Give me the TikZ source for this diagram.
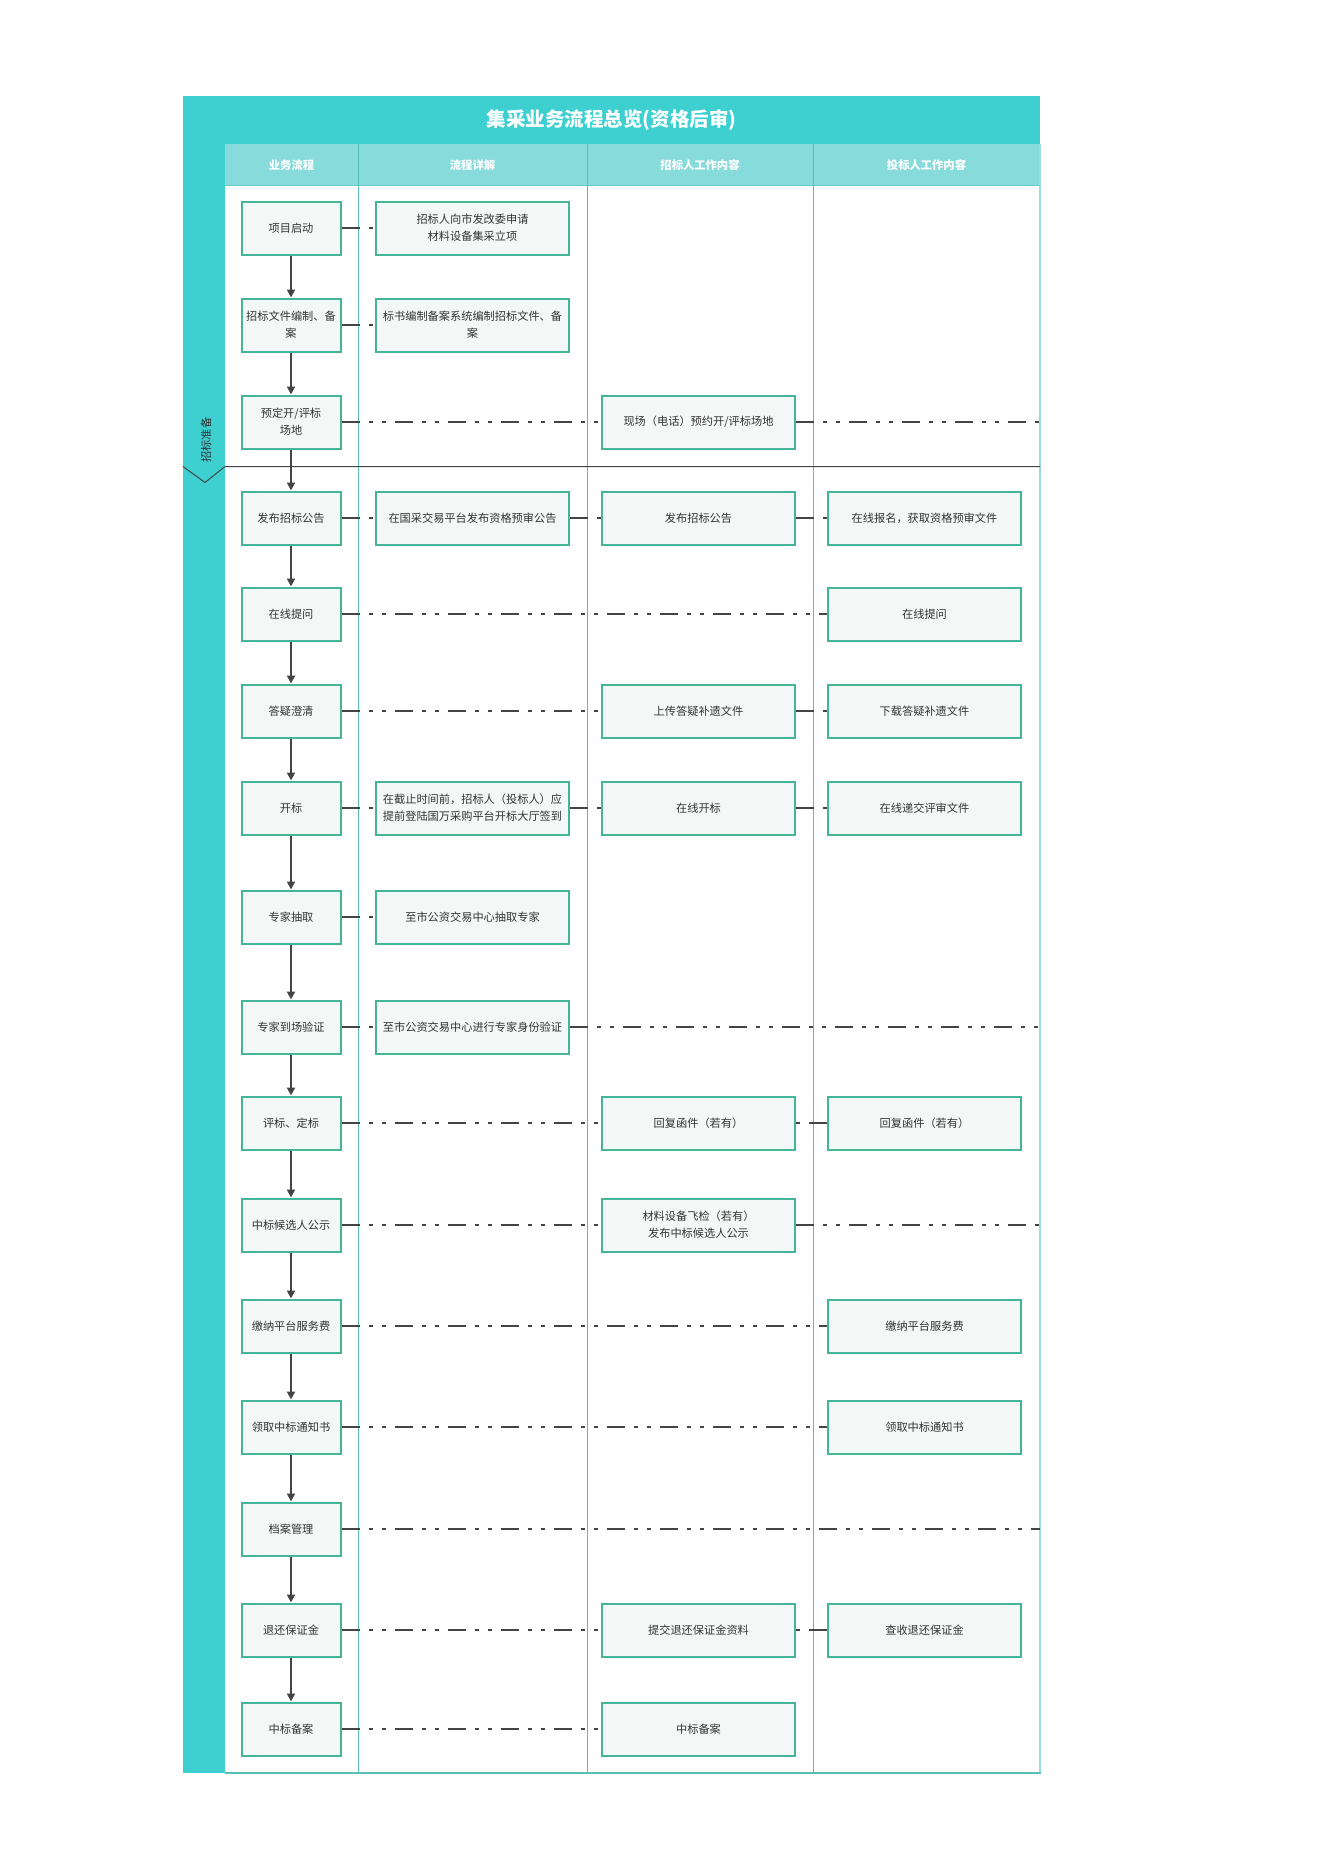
\documentclass[tikz,border=0pt]{standalone}
\usepackage{fontspec}
\setmainfont{Noto Sans CJK SC}
\usetikzlibrary{arrows.meta}

\definecolor{titleteal}{HTML}{3ECFD0}
\definecolor{headteal}{HTML}{88DBDB}
\definecolor{headline}{HTML}{6CCACA}
\definecolor{laneline}{HTML}{5ABDB8}
\definecolor{frameline}{HTML}{9ADCDC}
\definecolor{boxline}{HTML}{45B598}
\definecolor{boxfill}{HTML}{F3F7F6}
\definecolor{linkgray}{HTML}{444444}
\definecolor{textgray}{HTML}{333333}

\tikzset{
  stepbox/.style={draw=boxline, line width=2pt, fill=boxfill, text=textgray,
    font=\fontsize{11.2pt}{17pt}\selectfont, align=center, inner sep=0pt,
    minimum height=53pt},
  flowbox/.style={stepbox, minimum width=99pt},
  workbox/.style={stepbox, minimum width=193pt},
  headtext/.style={text=white, font=\fontsize{11.3pt}{14pt}\selectfont\bfseries},
  flowarrow/.style={draw=linkgray, line width=2pt,
    -{Triangle[length=8pt,width=8pt]}},
  linkline/.style={draw=linkgray, line width=2pt,
    dash pattern=on 18pt off 9pt on 4pt off 9pt on 4pt off 9pt}
}

\begin{document}
\begin{tikzpicture}[x=1pt, y=-1pt]

  \useasboundingbox (0,0) rectangle (1323,1871);
  \fill[white] (0,0) rectangle (1323,1871);

  %% Title band, left strip and lane headers.
  \fill[titleteal] (183,96) rectangle (1040,144);
  \fill[titleteal] (183,96) rectangle (225,1773);
  \fill[headteal] (225,144) rectangle (1040,185);
  \node[text=white, font=\fontsize{19.5pt}{22pt}\selectfont\bfseries]
    (title) at (611.5,120) {集采业务流程总览(资格后审)};
  \node[headtext] (hFlow) at (291.5,165) {业务流程};
  \node[headtext] (hDetail) at (472.5,165) {流程详解};
  \node[headtext] (hTender) at (700,165) {招标人工作内容};
  \node[headtext] (hBidder) at (926.5,165) {投标人工作内容};

  %% The lane lines:
  \draw[headline, line width=1pt] (225,185.5) -- (1040,185.5);
  \draw[laneline, line width=1pt] (358.5,144) -- (358.5,1773);
  \draw[laneline, line width=1pt] (587.5,144) -- (587.5,1773);
  \draw[laneline, line width=1pt] (813.5,144) -- (813.5,1773);
  \draw[frameline, line width=2pt] (1040,144) -- (1040,1773);
  \draw[laneline, line width=2pt] (225,1773) -- (1041,1773);

  %% The stage mark:
  \draw[linkgray, line width=1pt] (183,466.5) -- (205,482.5) -- (225,466.5)
    -- (1040,466.5);
  \node[rotate=90, text=textgray, font=\fontsize{11.2pt}{14pt}\selectfont]
    (stage) at (206,440) {招标准备};

  %% Business flow boxes:
  \node[flowbox] (pStart) at (291,228) {项目启动};
  \node[flowbox] (pDoc) at (291,325) {招标文件编制、备\\案};
  \node[flowbox] (pSite) at (291,422) {预定开/评标\\场地};
  \node[flowbox] (pNotice) at (291,518) {发布招标公告};
  \node[flowbox] (pAsk) at (291,614) {在线提问};
  \node[flowbox] (pClarify) at (291,711) {答疑澄清};
  \node[flowbox] (pOpen) at (291,808) {开标};
  \node[flowbox] (pDraw) at (291,917) {专家抽取};
  \node[flowbox] (pCheck) at (291,1027) {专家到场验证};
  \node[flowbox] (pEval) at (291,1123) {评标、定标};
  \node[flowbox] (pPublic) at (291,1225) {中标候选人公示};
  \node[flowbox] (pFee) at (291,1326) {缴纳平台服务费};
  \node[flowbox] (pLetter) at (291,1427) {领取中标通知书};
  \node[flowbox] (pArchive) at (291,1529) {档案管理};
  \node[flowbox] (pRefund) at (291,1630) {退还保证金};
  \node[flowbox] (pRecord) at (291,1729) {中标备案};

  %% Detail boxes:
  \node[workbox] (dStart) at (472.5,228) {招标人向市发改委申请\\材料设备集采立项};
  \node[workbox] (dDoc) at (472.5,325) {标书编制备案系统编制招标文件、备\\案};
  \node[workbox] (dNotice) at (472.5,518) {在国采交易平台发布资格预审公告};
  \node[workbox] (dOpen) at (472.5,808)
    {在截止时间前，招标人（投标人）应\\提前登陆国万采购平台开标大厅签到};
  \node[workbox] (dDraw) at (472.5,917) {至市公资交易中心抽取专家};
  \node[workbox] (dCheck) at (472.5,1027) {至市公资交易中心进行专家身份验证};

  %% Tenderer boxes:
  \node[workbox] (tSite) at (698.5,422) {现场（电话）预约开/评标场地};
  \node[workbox] (tNotice) at (698.5,518) {发布招标公告};
  \node[workbox] (tClarify) at (698.5,711) {上传答疑补遗文件};
  \node[workbox] (tOpen) at (698.5,808) {在线开标};
  \node[workbox] (tEval) at (698.5,1123) {回复函件（若有）};
  \node[workbox] (tPublic) at (698.5,1225) {材料设备飞检（若有）\\发布中标候选人公示};
  \node[workbox] (tRefund) at (698.5,1630) {提交退还保证金资料};
  \node[workbox] (tRecord) at (698.5,1729) {中标备案};

  %% Bidder boxes:
  \node[workbox] (bNotice) at (924.5,518) {在线报名，获取资格预审文件};
  \node[workbox] (bAsk) at (924.5,614) {在线提问};
  \node[workbox] (bClarify) at (924.5,711) {下载答疑补遗文件};
  \node[workbox] (bOpen) at (924.5,808) {在线递交评审文件};
  \node[workbox] (bEval) at (924.5,1123) {回复函件（若有）};
  \node[workbox] (bFee) at (924.5,1326) {缴纳平台服务费};
  \node[workbox] (bLetter) at (924.5,1427) {领取中标通知书};
  \node[workbox] (bRefund) at (924.5,1630) {查收退还保证金};

  %% Free ends on the right border:
  \coordinate (eSite) at (1040,422);
  \coordinate (eCheck) at (1040,1027);
  \coordinate (ePublic) at (1040,1225);
  \coordinate (eArchive) at (1040,1529);

  %% The flow arrows:
  \draw[flowarrow] (pStart) -- (pDoc);
  \draw[flowarrow] (pDoc) -- (pSite);
  \draw[flowarrow] (pSite) -- (pNotice);
  \draw[flowarrow] (pNotice) -- (pAsk);
  \draw[flowarrow] (pAsk) -- (pClarify);
  \draw[flowarrow] (pClarify) -- (pOpen);
  \draw[flowarrow] (pOpen) -- (pDraw);
  \draw[flowarrow] (pDraw) -- (pCheck);
  \draw[flowarrow] (pCheck) -- (pEval);
  \draw[flowarrow] (pEval) -- (pPublic);
  \draw[flowarrow] (pPublic) -- (pFee);
  \draw[flowarrow] (pFee) -- (pLetter);
  \draw[flowarrow] (pLetter) -- (pArchive);
  \draw[flowarrow] (pArchive) -- (pRefund);
  \draw[flowarrow] (pRefund) -- (pRecord);

  %% The connections across the lanes:
  \draw[linkline] (pStart) -- (dStart);
  \draw[linkline] (pDoc) -- (dDoc);
  \draw[linkline] (pSite) -- (tSite);
  \draw[linkline] (tSite) -- (eSite);
  \draw[linkline] (pNotice) -- (dNotice);
  \draw[linkline] (dNotice) -- (tNotice);
  \draw[linkline] (tNotice) -- (bNotice);
  \draw[linkline] (pAsk) -- (bAsk);
  \draw[linkline] (pClarify) -- (tClarify);
  \draw[linkline] (tClarify) -- (bClarify);
  \draw[linkline] (pOpen) -- (dOpen);
  \draw[linkline] (dOpen) -- (tOpen);
  \draw[linkline] (tOpen) -- (bOpen);
  \draw[linkline] (pDraw) -- (dDraw);
  \draw[linkline] (pCheck) -- (dCheck);
  \draw[linkline] (dCheck) -- (eCheck);
  \draw[linkline] (pEval) -- (tEval);
  \draw[linkline] (bEval) -- (tEval);
  \draw[linkline] (pPublic) -- (tPublic);
  \draw[linkline] (tPublic) -- (ePublic);
  \draw[linkline] (pFee) -- (bFee);
  \draw[linkline] (pLetter) -- (bLetter);
  \draw[linkline] (pArchive) -- (eArchive);
  \draw[linkline] (pRefund) -- (tRefund);
  \draw[linkline] (bRefund) -- (tRefund);
  \draw[linkline] (pRecord) -- (tRecord);

\end{tikzpicture}
\end{document}
